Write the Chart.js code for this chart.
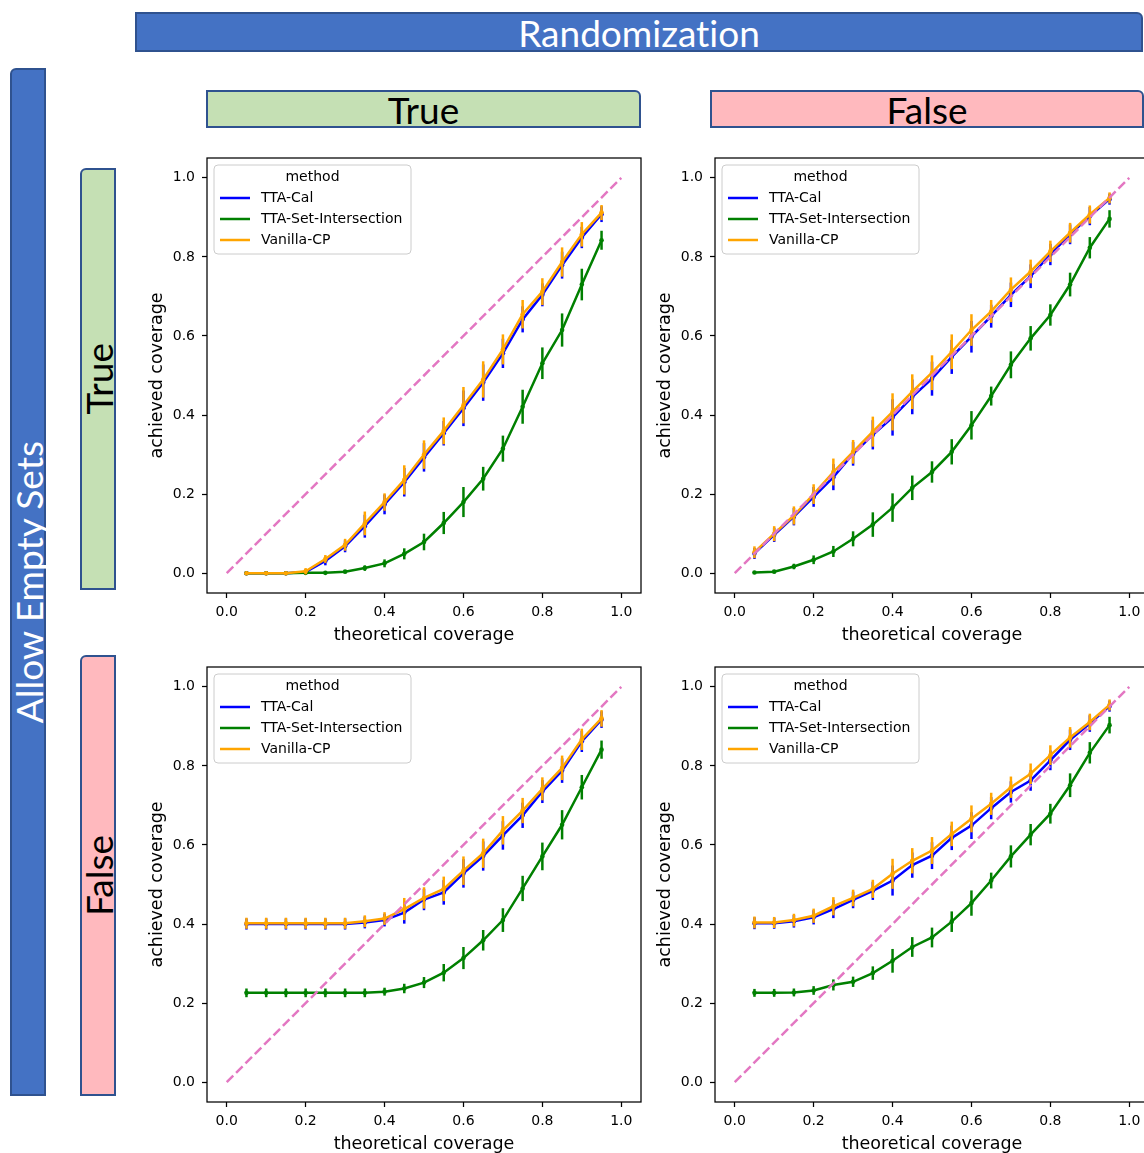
<!DOCTYPE html>
<html>
<head>
<meta charset="utf-8">
<title>Coverage grid</title>
<script src="https://cdn.jsdelivr.net/npm/chart.js@4.4.1/dist/chart.umd.min.js"></script>
<style>
  html, body { margin: 0; padding: 0; background: #fff; }
  body { width: 1144px; height: 1153px; overflow: hidden; position: relative; }
  .band { position: absolute; box-sizing: border-box; border: 2px solid #2F528F;
          display: flex; align-items: center; justify-content: center;
          font-family: Lato, "Open Sans", sans-serif; line-height: 1; font-size: 37px;
          font-variant-ligatures: none; font-feature-settings: "liga" 0; }
  .blue  { background: #4472C4; color: #fff; }
  .green { background: #C5E0B4; color: #000; }
  .pink  { background: #FFB9BE; color: #000; }
  .h { border-top-right-radius: 6px; }
  .v { border-top-left-radius: 6px; }
  .v span { writing-mode: vertical-rl; transform: rotate(180deg); }
  .panel { position: absolute; }
  .panel canvas { display: block; }
</style>
</head>
<body>
<div class="band blue h" style="left:135px;top:12px;width:1008px;height:40px;"><span>Randomization</span></div>
<div class="band green h" style="left:206px;top:90px;width:435px;height:38px;"><span>True</span></div>
<div class="band pink h" style="left:710px;top:90px;width:434px;height:38px;"><span>False</span></div>
<div class="band blue v" style="left:10px;top:68px;width:36px;height:1028px;"><span>Allow Empty Sets</span></div>
<div class="band green v" style="left:80px;top:168px;width:36px;height:422px;"><span>True</span></div>
<div class="band pink v" style="left:80px;top:655px;width:36px;height:441px;"><span>False</span></div>

<div class="panel" style="left:140px;top:150px;"><canvas id="pRTeT" width="510" height="500"></canvas></div>
<div class="panel" style="left:648px;top:150px;"><canvas id="pRFeT" width="510" height="500"></canvas></div>
<div class="panel" style="left:140px;top:659px;"><canvas id="pRTeF" width="510" height="500"></canvas></div>
<div class="panel" style="left:648px;top:659px;"><canvas id="pRFeF" width="510" height="500"></canvas></div>

<script>
// Theoretical coverage levels (x) and axis ticks
const coverage = [0.05, 0.10, 0.15, 0.20, 0.25, 0.30, 0.35, 0.40, 0.45, 0.50,
                  0.55, 0.60, 0.65, 0.70, 0.75, 0.80, 0.85, 0.90, 0.95];
const tickValues = [0.0, 0.2, 0.4, 0.6, 0.8, 1.0];
const methods = ['TTA-Cal', 'TTA-Set-Intersection', 'Vanilla-CP'];
const legendTitle = 'method';
const xLabel = 'theoretical coverage';
const yLabel = 'achieved coverage';
const idealLine = [0, 1];

// Randomization = True, Allow Empty Sets = True
const calRTeT   = [0.000, 0.000, 0.000, 0.003, 0.031, 0.068, 0.119, 0.174, 0.230, 0.293, 0.354, 0.417, 0.482, 0.556, 0.642, 0.704, 0.779, 0.849, 0.908];
const calRTeTsd = [0.002, 0.002, 0.002, 0.007, 0.011, 0.015, 0.029, 0.025, 0.036, 0.036, 0.031, 0.045, 0.046, 0.037, 0.033, 0.029, 0.034, 0.027, 0.020];
const setRTeT   = [0.000, 0.000, 0.000, 0.001, 0.001, 0.004, 0.013, 0.025, 0.049, 0.079, 0.127, 0.180, 0.239, 0.315, 0.421, 0.531, 0.615, 0.730, 0.842];
const setRTeTsd = [0.001, 0.001, 0.001, 0.002, 0.002, 0.004, 0.007, 0.010, 0.014, 0.021, 0.028, 0.038, 0.030, 0.033, 0.043, 0.040, 0.042, 0.040, 0.024];
const vanRTeT   = [0.000, 0.000, 0.000, 0.005, 0.036, 0.072, 0.126, 0.180, 0.236, 0.300, 0.360, 0.425, 0.490, 0.566, 0.655, 0.712, 0.787, 0.857, 0.912];
const vanRTeTsd = [0.002, 0.002, 0.002, 0.008, 0.010, 0.015, 0.030, 0.022, 0.037, 0.036, 0.034, 0.046, 0.046, 0.038, 0.036, 0.034, 0.037, 0.031, 0.019];

// Randomization = False, Allow Empty Sets = True
const calRFeT   = [0.050, 0.097, 0.143, 0.193, 0.243, 0.302, 0.350, 0.394, 0.446, 0.492, 0.547, 0.598, 0.650, 0.704, 0.751, 0.806, 0.857, 0.903, 0.946];
const calRFeTsd = [0.014, 0.018, 0.022, 0.025, 0.033, 0.030, 0.037, 0.046, 0.044, 0.043, 0.043, 0.040, 0.029, 0.031, 0.030, 0.027, 0.025, 0.023, 0.014];
const setRFeT   = [0.002, 0.004, 0.017, 0.034, 0.055, 0.087, 0.123, 0.166, 0.216, 0.256, 0.307, 0.374, 0.448, 0.527, 0.594, 0.653, 0.730, 0.823, 0.896];
const setRFeTsd = [0.003, 0.004, 0.007, 0.011, 0.014, 0.019, 0.031, 0.036, 0.031, 0.027, 0.032, 0.036, 0.024, 0.034, 0.031, 0.027, 0.030, 0.027, 0.022];
const vanRFeT   = [0.053, 0.100, 0.146, 0.200, 0.256, 0.307, 0.358, 0.408, 0.459, 0.507, 0.560, 0.615, 0.662, 0.717, 0.763, 0.814, 0.861, 0.907, 0.949];
const vanRFeTsd = [0.015, 0.019, 0.023, 0.025, 0.034, 0.030, 0.038, 0.047, 0.044, 0.044, 0.044, 0.040, 0.029, 0.031, 0.030, 0.027, 0.025, 0.023, 0.014];

// Randomization = True, Allow Empty Sets = False
const calRTeF   = [0.400, 0.400, 0.400, 0.400, 0.400, 0.400, 0.404, 0.410, 0.429, 0.462, 0.480, 0.528, 0.572, 0.624, 0.675, 0.735, 0.788, 0.862, 0.917];
const calRTeFsd = [0.014, 0.014, 0.014, 0.014, 0.014, 0.014, 0.015, 0.016, 0.028, 0.027, 0.031, 0.036, 0.037, 0.036, 0.032, 0.029, 0.031, 0.027, 0.021];
const setRTeF   = [0.226, 0.226, 0.226, 0.226, 0.226, 0.226, 0.226, 0.229, 0.237, 0.252, 0.277, 0.314, 0.359, 0.410, 0.490, 0.571, 0.651, 0.746, 0.841];
const setRTeFsd = [0.011, 0.011, 0.011, 0.011, 0.011, 0.011, 0.011, 0.010, 0.012, 0.014, 0.022, 0.028, 0.026, 0.030, 0.032, 0.035, 0.037, 0.031, 0.023];
const vanRTeF   = [0.402, 0.402, 0.402, 0.402, 0.402, 0.402, 0.407, 0.414, 0.438, 0.466, 0.489, 0.535, 0.579, 0.637, 0.687, 0.742, 0.795, 0.867, 0.920];
const vanRTeFsd = [0.014, 0.014, 0.014, 0.014, 0.014, 0.014, 0.015, 0.016, 0.028, 0.027, 0.031, 0.036, 0.037, 0.036, 0.032, 0.029, 0.031, 0.027, 0.021];

// Randomization = False, Allow Empty Sets = False
const calRFeF   = [0.402, 0.402, 0.407, 0.417, 0.438, 0.461, 0.484, 0.510, 0.549, 0.573, 0.618, 0.649, 0.693, 0.734, 0.763, 0.814, 0.866, 0.907, 0.951];
const calRFeFsd = [0.015, 0.014, 0.016, 0.018, 0.023, 0.021, 0.023, 0.038, 0.032, 0.034, 0.031, 0.034, 0.028, 0.027, 0.026, 0.025, 0.026, 0.021, 0.014];
const setRFeF   = [0.226, 0.226, 0.227, 0.232, 0.246, 0.254, 0.276, 0.307, 0.342, 0.366, 0.406, 0.453, 0.510, 0.571, 0.626, 0.679, 0.751, 0.833, 0.903];
const setRFeFsd = [0.010, 0.010, 0.010, 0.011, 0.014, 0.013, 0.017, 0.030, 0.025, 0.025, 0.026, 0.032, 0.020, 0.028, 0.027, 0.025, 0.030, 0.027, 0.021];
const vanRFeF   = [0.404, 0.404, 0.410, 0.421, 0.445, 0.466, 0.489, 0.527, 0.560, 0.586, 0.628, 0.666, 0.704, 0.746, 0.780, 0.827, 0.872, 0.911, 0.954];
const vanRFeFsd = [0.015, 0.014, 0.016, 0.018, 0.023, 0.021, 0.023, 0.038, 0.032, 0.034, 0.031, 0.034, 0.028, 0.027, 0.026, 0.025, 0.026, 0.021, 0.014];

const colors = { cal: '#0000FF', set: '#008000', van: '#FFA500', ideal: '#E377C2' };
const FONT = '"DejaVu Sans", sans-serif';

// Vertical error bars drawn right after each method's line
const errorBars = {
  id: 'errorBars',
  afterDatasetDraw(chart, args) {
    const ds = chart.data.datasets[args.index];
    if (!ds.sd) return;
    const { ctx, chartArea: a, scales: { x, y } } = chart;
    ctx.save();
    ctx.beginPath();
    ctx.rect(a.left, a.top, a.right - a.left, a.bottom - a.top);
    ctx.clip();
    ctx.strokeStyle = ds.borderColor;
    ctx.lineWidth = 2.5;
    ctx.lineCap = 'butt';
    ds.data.forEach((p, i) => {
      const px = x.getPixelForValue(p.x);
      ctx.beginPath();
      ctx.moveTo(px, y.getPixelForValue(p.y - ds.sd[i]));
      ctx.lineTo(px, y.getPixelForValue(p.y + ds.sd[i]));
      ctx.stroke();
    });
    ctx.restore();
  }
};

// Axes frame plus the boxed "method" legend in the upper-left corner
const frameAndLegend = {
  id: 'frameAndLegend',
  afterDraw(chart) {
    const { ctx, chartArea: a } = chart;
    ctx.save();
    ctx.strokeStyle = '#000';
    ctx.lineWidth = 1.25;
    ctx.strokeRect(a.left, a.top, a.right - a.left, a.bottom - a.top);

    const x0 = a.left + 7, y0 = a.top + 7, w = 197, h = 89, r = 4;
    ctx.beginPath();
    ctx.moveTo(x0 + r, y0);
    ctx.arcTo(x0 + w, y0, x0 + w, y0 + h, r);
    ctx.arcTo(x0 + w, y0 + h, x0, y0 + h, r);
    ctx.arcTo(x0, y0 + h, x0, y0, r);
    ctx.arcTo(x0, y0, x0 + w, y0, r);
    ctx.closePath();
    ctx.fillStyle = 'rgba(255,255,255,0.8)';
    ctx.fill();
    ctx.strokeStyle = '#cccccc';
    ctx.lineWidth = 1;
    ctx.stroke();

    ctx.font = '14px ' + FONT;
    ctx.fillStyle = '#000';
    ctx.textBaseline = 'middle';
    ctx.textAlign = 'center';
    ctx.fillText(legendTitle, x0 + w / 2, y0 + 12);
    ctx.textAlign = 'left';
    chart.data.datasets.filter(d => d.sd).sort((p, q) => p.legendIndex - q.legendIndex)
      .forEach((d, i) => {
        const yy = y0 + 33 + i * 21;
        ctx.strokeStyle = d.borderColor;
        ctx.lineWidth = 2.5;
        ctx.beginPath();
        ctx.moveTo(x0 + 6, yy);
        ctx.lineTo(x0 + 36, yy);
        ctx.stroke();
        ctx.fillStyle = '#000';
        ctx.fillText(d.label, x0 + 47, yy);
      });
    ctx.restore();
  }
};

function pts(vals) { return coverage.map((c, i) => ({ x: c, y: vals[i] })); }

function series(label, color, vals, sd, idx, order) {
  return {
    label, data: pts(vals), sd, legendIndex: idx, order,
    borderColor: color, backgroundColor: color,
    borderWidth: 2.5, pointRadius: 2.3, pointBorderWidth: 0,
    pointBackgroundColor: color, tension: 0
  };
}

function axis(title, isX, fitSize) {
  return {
    type: 'linear', min: -0.05, max: 1.05,
    afterBuildTicks: s => { s.ticks = tickValues.map(v => ({ value: v })); },
    afterFit: s => {
      if (isX) s.height = fitSize; else s.width = fitSize;
      s.paddingTop = 0; s.paddingBottom = 0; s.paddingLeft = 0; s.paddingRight = 0;
    },
    ticks: {
      callback: v => Number(v).toFixed(1),
      color: '#000', font: { family: FONT, size: 14 },
      padding: isX ? 6 : 7, maxRotation: 0, autoSkip: false
    },
    grid: { display: true, drawOnChartArea: false, drawTicks: true,
            tickLength: 5, tickWidth: 1.25, tickColor: '#000' },
    border: { display: false },
    title: { display: true, text: title, color: '#000',
             font: { family: FONT, size: 17.5, lineHeight: 1.2 },
             padding: isX ? { top: 0, bottom: 4 } : { top: 7, bottom: 0 } }
  };
}

function makePanel(id, cal, calSd, set, setSd, van, vanSd) {
  new Chart(document.getElementById(id), {
    type: 'line',
    data: {
      datasets: [
        {
          label: 'ideal', data: idealLine.map(v => ({ x: v, y: v })), order: 0,
          borderColor: colors.ideal, borderWidth: 2.5, borderDash: [9.25, 4],
          pointRadius: 0, tension: 0
        },
        series(methods[2], colors.van, van, vanSd, 2, 1),
        series(methods[1], colors.set, set, setSd, 1, 2),
        series(methods[0], colors.cal, cal, calSd, 0, 3)
      ]
    },
    options: {
      responsive: false, animation: false, devicePixelRatio: 1,
      layout: { padding: { top: 8, right: 9, left: 0, bottom: 0 } },
      plugins: { legend: { display: false }, tooltip: { enabled: false } },
      scales: { x: axis(xLabel, true, 57), y: axis(yLabel, false, 67) }
    },
    plugins: [errorBars, frameAndLegend]
  });
}

makePanel('pRTeT', calRTeT, calRTeTsd, setRTeT, setRTeTsd, vanRTeT, vanRTeTsd);
makePanel('pRFeT', calRFeT, calRFeTsd, setRFeT, setRFeTsd, vanRFeT, vanRFeTsd);
makePanel('pRTeF', calRTeF, calRTeFsd, setRTeF, setRTeFsd, vanRTeF, vanRTeFsd);
makePanel('pRFeF', calRFeF, calRFeFsd, setRFeF, setRFeFsd, vanRFeF, vanRFeFsd);
</script>
</body>
</html>
